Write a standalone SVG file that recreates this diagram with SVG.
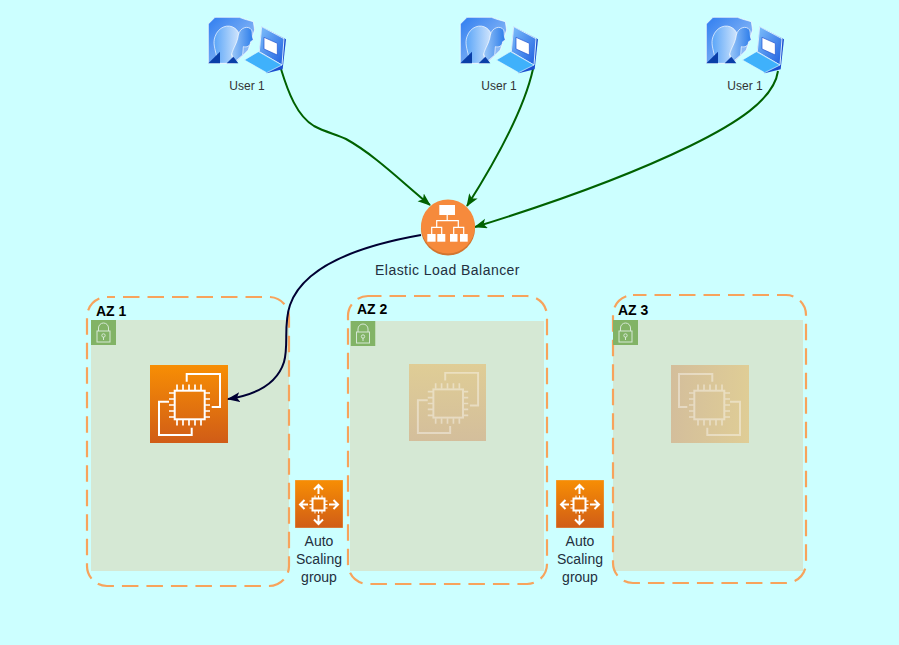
<svg xmlns="http://www.w3.org/2000/svg" width="899" height="645" viewBox="0 0 899 645">
<style>
.zone{fill:none;stroke:#f7a35c;stroke-width:2.2;stroke-dasharray:16.5 8}
.sub{fill:#d5e8d4}
.lockbg{fill:#82b366}
.lk{fill:none;stroke:#d5e8d4;stroke-width:1}
.az{font:bold 14px "Liberation Sans",Arial,sans-serif;fill:#000}
.lbl{font:14px "Liberation Sans",Arial,sans-serif;fill:#232f3e;text-anchor:middle}
.usr{font:12px "Liberation Sans",Arial,sans-serif;fill:#333;text-anchor:middle}
.g{fill:none;stroke:#006100;stroke-width:2}
.ic{fill:none;stroke:#fff;stroke-width:2}
.ic2{fill:none;stroke:#fff;stroke-width:1.7}
.elbl{fill:none;stroke:#fff;stroke-width:1.2}
</style>
<defs>
<linearGradient id="o" x1="0" y1="0" x2="0" y2="1"><stop offset="0" stop-color="#f78e04"/><stop offset="1" stop-color="#d05c17"/></linearGradient>
<linearGradient id="p0" x1="0" y1="0" x2="1" y2="1"><stop offset="0" stop-color="#2f7df0"/><stop offset="1" stop-color="#a9cdf8"/></linearGradient>
<linearGradient id="p" x1="0" y1="0" x2="1" y2="0"><stop offset="0" stop-color="#5aa5f8"/><stop offset="1" stop-color="#e4effd"/></linearGradient>
<linearGradient id="p2" x1="0" y1="0" x2="1" y2="0"><stop offset="0" stop-color="#9cc8f8"/><stop offset="1" stop-color="#2a7bea"/></linearGradient>
<linearGradient id="s" x1="0" y1="0" x2="1" y2="1"><stop offset="0" stop-color="#7fc0fb"/><stop offset="1" stop-color="#1e5fe0"/></linearGradient>
<marker id="ag" markerWidth="14" markerHeight="12" refX="12" refY="5" orient="auto" markerUnits="userSpaceOnUse"><path d="M0 0L13 5L0 10L3 5Z" fill="#006100"/></marker>
<marker id="an" markerWidth="14" markerHeight="12" refX="12" refY="5" orient="auto" markerUnits="userSpaceOnUse"><path d="M0 0L13 5L0 10L3 5Z" fill="#000033"/></marker>
<symbol id="user" width="100" height="90" viewBox="0 0 300 270">
<path d="M25 42L45 22H118L135 28L160 35L164 60L155 85L145 120L130 135L105 160H25Z" fill="url(#p0)" stroke="#fff" stroke-width="2"/>
<path d="M50 140C45 115 38 100 45 80C55 50 85 40 105 55C118 65 120 80 120 92L130 110L118 115C118 130 105 135 95 132L100 160H60Z" fill="url(#p)" stroke="#fff" stroke-width="2"/>
<path d="M95 132C100 112 112 100 115 75C120 52 145 45 155 60C158 68 155 78 160 90L152 95C150 110 140 112 130 110L128 135L105 155Z" fill="url(#p2)" stroke="#fff" stroke-width="2"/>
<path d="M25 160L60 125V160Z" fill="#0a3fa8"/>
<path d="M80 160L100 140L115 160Z" fill="#0a3fa8"/>
<path d="M185 50L258 88L248 178L200 190L178 130Z" fill="#1b4fd0"/>
<path d="M185 50L252 86L246 165L178 125Z" fill="url(#s)" stroke="#d8ecff" stroke-width="3"/>
<path d="M192 82L232 100V135L192 117Z" fill="#fff" stroke="#1b4fd0" stroke-width="2"/>
<path d="M175 125L246 165L200 188L133 150Z" fill="#3fb1fb" stroke="#e4faff" stroke-width="2"/>
</symbol>
<symbol id="ec2" width="78" height="78" viewBox="0 0 78 78">
<path d="M36.700 16.700V9H70V42H61.700" class="ic"/>
<path d="M41.700 62.700V70H9V36.700H19" class="ic"/>
<rect x="24.700" y="25.700" width="30" height="28.600" class="ic"/>
<path d="M27 25V19.500M33 25V19.500M39 25V19.500M45 25V19.500M51 25V19.500M27 55V60.500M33 55V60.500M39 55V60.500M45 55V60.500M51 55V60.500M24.700 28H19M24.700 34H19M24.700 40H19M24.700 46H19M24.700 52H19M54.700 28H60M54.700 34H60M54.700 40H60M54.700 46H60M54.700 52H60" class="ic2"/>
</symbol>
<symbol id="lock" width="25" height="25" viewBox="0 0 25 25">
<rect width="25" height="25" class="lockbg"/>
<rect x="6" y="11" width="13" height="11" class="lk"/>
<path d="M7.500 11V8A5 5 0 0 1 17.500 8V11" class="lk"/>
<circle cx="12.500" cy="15.500" r="1.700" class="lk"/><path d="M12.500 17V20" class="lk"/>
</symbol>
<symbol id="asg" width="48" height="48" viewBox="0 0 48 48">
<rect width="48" height="48" fill="url(#o)" stroke="#e7b97f" stroke-width=".6"/>
<rect x="17.500" y="18.500" width="12" height="12" class="ic"/>
<path d="M20 18V15.500M23.500 18V15.500M27 18V15.500M20 31V33.500M23.500 31V33.500M27 31V33.500M17 21H14.500M17 24.500H14.500M17 28H14.500M30 21H32.500M30 24.500H32.500M30 28H32.500" fill="none" stroke="#fff" stroke-width="1"/>
<path d="M23.500 14V5M19 9.500L23.500 5L28 9.500M23.500 35V44M19 39.500L23.500 44L28 39.500M13 24.500H5M9.500 20L5 24.500L9.500 29M34 24.500H43M38.500 20L43 24.500L38.500 29" class="ic"/>
</symbol>
</defs>
<rect width="899" height="645" fill="#ccffff"/>

<g id="az1">
<rect x="91" y="320" width="198" height="251" class="sub"/>
<rect x="87" y="297" width="202" height="289" rx="20" class="zone" stroke-dashoffset="8.500"/>
<use href="#lock" x="91" y="320"/>
<text x="96" y="316" class="az">AZ 1</text>
<g id="ec2-1"><rect x="150" y="365" width="78" height="78" fill="url(#o)"/><use href="#ec2" x="150" y="365"/></g>
</g>
<g id="az2">
<rect x="350" y="321" width="194" height="250" class="sub"/>
<rect x="348" y="296" width="199" height="288" rx="20" class="zone" stroke-dashoffset="3"/>
<use href="#lock" x="350.500" y="321"/>
<text x="357" y="314" class="az">AZ 2</text>
<g id="ec2-2"><rect x="409" y="364" width="77" height="77" fill="url(#o)" opacity=".3"/><use href="#ec2" x="409" y="364" width="77" height="77" opacity=".4"/></g>
</g>
<g id="az3">
<rect x="613" y="320" width="190" height="251" class="sub"/>
<rect x="613" y="295" width="193" height="288" rx="20" class="zone" stroke-dashoffset="3"/>
<use href="#lock" x="613" y="320"/>
<text x="618" y="315" class="az">AZ 3</text>
<g id="ec2-3"><rect x="671" y="365" width="78" height="78" fill="url(#o)" opacity=".3" transform="rotate(90 710 404)"/><use href="#ec2" transform="translate(1420 0) scale(-1 1)" x="671" y="365" opacity=".4"/></g>
</g>

<g id="connectors">
<path class="g" d="M281 69C288 92 297 116 314 126C325 132 335 134 346 139C375 155 403 183 430 205" marker-end="url(#ag)"/>
<path class="g" d="M533 69C524 110 493 165 467 206" marker-end="url(#ag)"/>
<path class="g" d="M778 71C774 100 735 124 690 146C620 180 540 207 475 227" marker-end="url(#ag)"/>
<path fill="none" stroke="#000033" stroke-width="2" d="M421 235C370 244 305 262 290 305C283 325 289 345 284 362C277 384 255 395 228 399" marker-end="url(#an)"/>
</g>

<g id="user1"><use href="#user" x="200" y="10"/><text x="247" y="90" class="usr">User 1</text></g>
<g id="user2"><use href="#user" x="452" y="10"/><text x="499" y="90" class="usr">User 1</text></g>
<g id="user3"><use href="#user" x="698" y="10"/><text x="745" y="90" class="usr">User 1</text></g>

<g id="elb">
<circle cx="448" cy="228.500" r="27" fill="#d2752f"/>
<circle cx="448" cy="226.500" r="27" fill="#f68a3c"/>
<rect x="439.300" y="205" width="15.700" height="10" fill="#fff"/>
<path d="M447.200 215V220.700M436.700 227.300V220.700H458.300V227.300M431.700 234V227.300H441.700V234M453.700 234V227.300H463.700V234" class="elbl"/>
<rect x="427.300" y="234" width="8.300" height="7.700" fill="#fff"/>
<rect x="437.300" y="234" width="8" height="7.700" fill="#fff"/>
<rect x="450" y="234" width="7.500" height="7.700" fill="#fff"/>
<rect x="460" y="234" width="7.700" height="7.700" fill="#fff"/>
<text x="447.500" y="275" class="lbl" letter-spacing=".45">Elastic Load Balancer</text>
</g>

<g id="asg1"><use href="#asg" x="295" y="480"/><text class="lbl" x="319" y="546">Auto</text><text class="lbl" x="319" y="564">Scaling</text><text class="lbl" x="319" y="582">group</text></g>
<g id="asg2"><use href="#asg" x="556" y="480"/><text class="lbl" x="580" y="546">Auto</text><text class="lbl" x="580" y="564">Scaling</text><text class="lbl" x="580" y="582">group</text></g>
</svg>
